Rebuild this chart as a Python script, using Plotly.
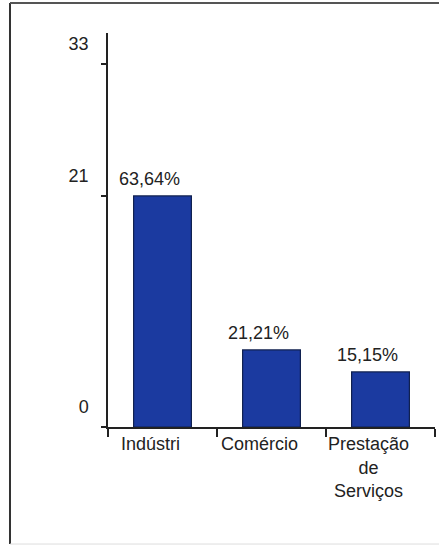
import plotly.graph_objects as go

# Distribution of companies by sector (count and share of 33)
setores = ["Indústri", "Comércio", "Prestação<br>de<br>Serviços"]
quantidades = [21, 7, 5]
percentuais = ["63,64%", "21,21%", "15,15%"]
marcas_y = [0, 21, 33]

fonte = dict(family="Arial, Liberation Sans, sans-serif", size=18, color="#222222")

fig = go.Figure()
fig.add_trace(go.Bar(
    x=setores,
    y=quantidades,
    width=0.53,
    marker=dict(color="#1b3aa0", line=dict(color="#10204f", width=1.2)),
    hoverinfo="skip",
))

# Percentage labels above each bar
for s, q, p in zip(setores, quantidades, percentuais):
    fig.add_annotation(
        x=s, y=q, text=p, showarrow=False,
        yanchor="bottom", yshift=5, xshift=-13, font=fonte,
    )

# Outer frame around the chart
fig.add_shape(type="line", xref="paper", yref="paper",
              x0=-0.2997, x1=-0.2997, y0=1.076, y1=-0.297,
              line=dict(color="#333333", width=2))
fig.add_shape(type="line", xref="paper", yref="paper",
              x0=-0.2997, x1=1.05, y0=1.076, y1=1.076,
              line=dict(color="#555555", width=2))
fig.add_shape(type="line", xref="paper", yref="paper",
              x0=-0.2997, x1=1.05, y0=-0.297, y1=-0.297,
              line=dict(color="#dddddd", width=1))

fig.update_layout(
    width=439, height=546,
    margin=dict(l=108, r=4, t=33, b=119),
    paper_bgcolor="white", plot_bgcolor="white",
    showlegend=False, font=fonte,
    bargap=0.47,
)
fig.update_xaxes(
    showline=True, linecolor="#222222", linewidth=1.5,
    ticks="outside", ticklen=8, tickwidth=1.5, tickcolor="#222222",
    tickson="boundaries", ticklabelshift=-12, ticklabelstandoff=0,
    showgrid=False, zeroline=False, tickfont=fonte,
)
fig.update_yaxes(
    range=[0, 35.8],
    tickvals=marcas_y, ticktext=[str(v) for v in marcas_y],
    showline=True, linecolor="#222222", linewidth=1.5,
    ticks="outside", ticklen=5, tickwidth=1.5, tickcolor="#222222",
    ticklabelshift=-20, ticklabelstandoff=9,
    showgrid=False, zeroline=False, tickfont=fonte,
)

fig.write_html("out.html")
